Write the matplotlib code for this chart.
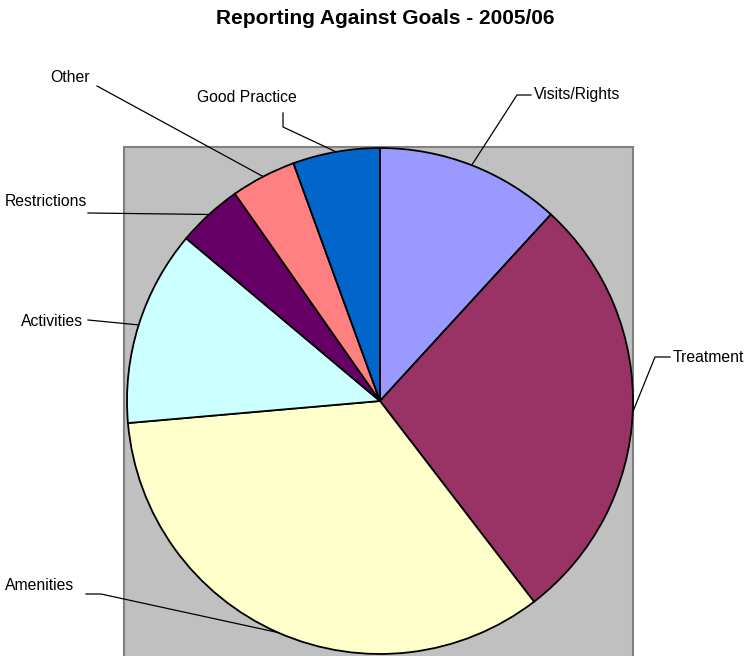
import numpy as np
import matplotlib
matplotlib.use("Agg")
import matplotlib.pyplot as plt
from matplotlib.patches import Rectangle

plt.rcParams['font.family'] = ['Liberation Sans', 'DejaVu Sans']

labels = ["Visits/Rights", "Treatment", "Amenities", "Activities",
          "Restrictions", "Other", "Good Practice"]
values = [17, 40, 49, 18, 6, 6, 8]
colors = ["#9999FF", "#993366", "#FFFFCC", "#CCFFFF",
          "#660066", "#FF8080", "#0066CC"]

W, H = 749, 656
def py(y):
    # pixel row (from top) -> data y (from bottom)
    return H - y

fig = plt.figure(figsize=(W / 100, H / 100), dpi=100)
ax = fig.add_axes([0, 0, 1, 1])

# grey plot area
ax.add_patch(Rectangle((124, -10), 509, py(147) + 10, facecolor="#C0C0C0",
                       edgecolor="#808080", linewidth=1.5, zorder=0))

cx, cy, r = 380, py(401), 253
wedges, _ = ax.pie(values, colors=colors, startangle=90, counterclock=False,
                   center=(cx, cy), radius=r, frame=True,
                   wedgeprops=dict(edgecolor="black", linewidth=1.3))

# label text position, alignment and leader elbow points (pixel coords)
layout = {
    "Visits/Rights": ((534, 95), "left", [(531, 95), (517, 95)]),
    "Treatment": ((673, 357), "left", [(670, 357), (655, 357)]),
    "Amenities": ((74, 586), "right", [(86, 594), (101, 594)]),
    "Activities": ((83, 322), "right", [(88, 320)]),
    "Restrictions": ((87, 202), "right", [(88, 213)]),
    "Other": ((90, 77), "right", [(97, 86)]),
    "Good Practice": ((247, 98), "center", [(283, 113), (283, 127)]),
}

for w, lab in zip(wedges, labels):
    mid = np.deg2rad((w.theta1 + w.theta2) / 2)
    ex, ey = cx + r * np.cos(mid), cy + r * np.sin(mid)
    (tx, ty), ha, pts = layout[lab]
    xs = [p[0] for p in pts] + [ex]
    ys = [py(p[1]) for p in pts] + [ey]
    ax.plot(xs, ys, color="black", linewidth=0.9, zorder=3)
    ax.text(tx, py(ty), lab, ha=ha, va="center", fontsize=11.3)

ax.text(385, py(18), "Reporting Against Goals - 2005/06", ha="center",
        va="center", fontsize=15, fontweight="bold")

ax.set_xlim(0, W)
ax.set_ylim(0, H)
ax.set_aspect("equal")
ax.axis("off")

fig.savefig("out.png", dpi=100)
